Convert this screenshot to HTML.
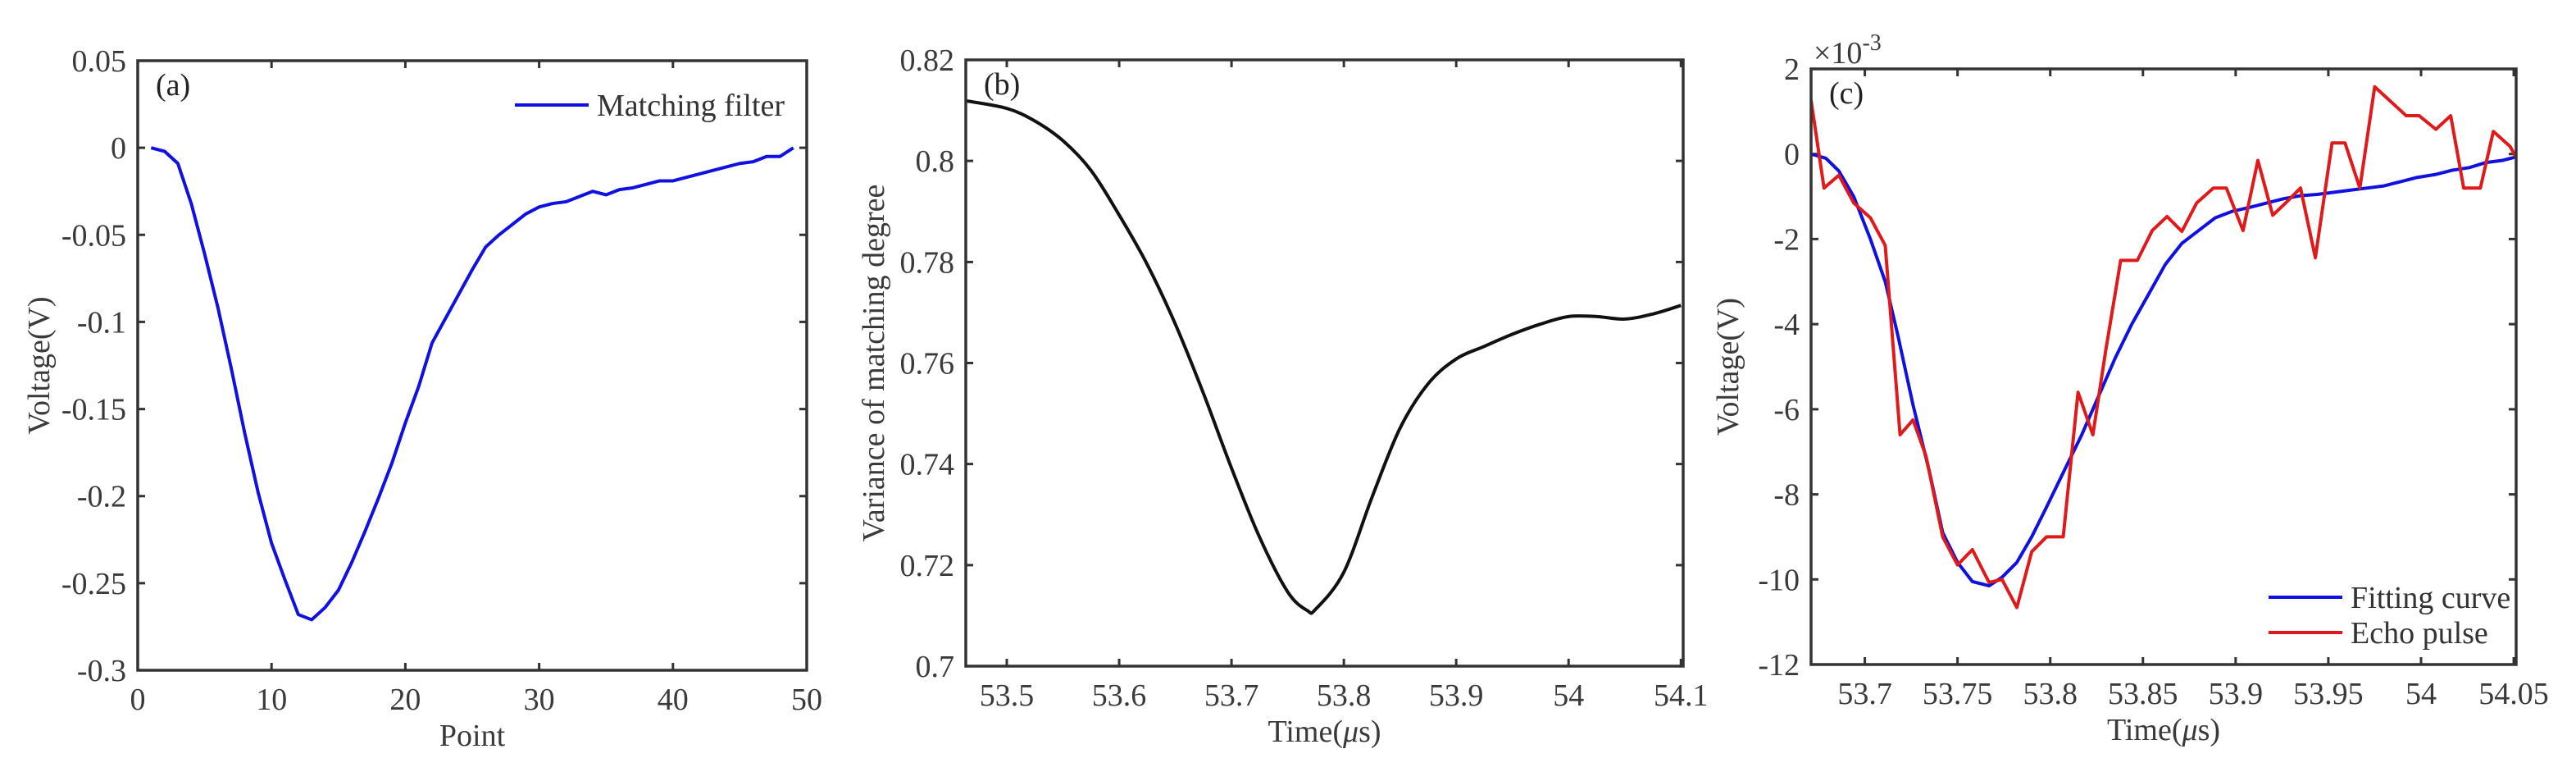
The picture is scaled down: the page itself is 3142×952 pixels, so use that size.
<!DOCTYPE html>
<html><head><meta charset="utf-8"><style>
html,body{margin:0;padding:0;background:#fff;}
svg{display:block;font-family:"Liberation Serif",serif;}
</style></head><body>
<svg id="fig" width="3142" height="952" viewBox="0 0 3142 952" xmlns="http://www.w3.org/2000/svg"></svg>
<script>
// Panel (a) data
const aPoints=[1,2,3,4,5,6,7,8,9,10,11,12,13,14,15,16,17,18,19,20,21,22,23,24,25,26,27,28,29,30,31,32,33,34,35,36,37,38,39,40,41,42,43,44,45,46,47,48,49];
const aVoltage=[0,-0.002,-0.009,-0.032,-0.061,-0.092,-0.127,-0.164,-0.198,-0.227,-0.248,-0.268,-0.271,-0.264,-0.254,-0.238,-0.22,-0.201,-0.181,-0.158,-0.137,-0.112,-0.098,-0.084,-0.07,-0.057,-0.05,-0.044,-0.038,-0.034,-0.032,-0.031,-0.028,-0.025,-0.027,-0.024,-0.023,-0.021,-0.019,-0.019,-0.017,-0.015,-0.013,-0.011,-0.009,-0.008,-0.005,-0.005,0];
const aXTicks=[0,10,20,30,40,50];
const aYTicks=[0.05,0,-0.05,-0.1,-0.15,-0.2,-0.25,-0.3];
const aYLabels=["0.05","0","-0.05","-0.1","-0.15","-0.2","-0.25","-0.3"];
// Panel (b) data
const bTime=[53.4635,53.5,53.525,53.55,53.575,53.6,53.625,53.65,53.675,53.7,53.725,53.75,53.7675,53.775,53.8,53.825,53.85,53.875,53.9,53.925,53.95,53.975,54.0,54.025,54.05,54.075,54.1];
const bVariance=[0.8119,0.8104,0.8079,0.804,0.7981,0.7893,0.7795,0.7677,0.754,0.7392,0.7255,0.7147,0.711,0.7113,0.7186,0.7334,0.7471,0.7559,0.7608,0.7633,0.7657,0.7677,0.7692,0.7692,0.7687,0.7697,0.7714];
const bXTicks=[53.5,53.6,53.7,53.8,53.9,54,54.1];
const bYTicks=[0.82,0.8,0.78,0.76,0.74,0.72,0.7];
const bYLabels=["0.82","0.8","0.78","0.76","0.74","0.72","0.7"];
// Panel (c) data (units of 1e-3 V)
const cEchoTime=[53.671,53.678,53.686,53.694,53.703,53.711,53.719,53.726,53.733,53.742,53.750,53.758,53.767,53.774,53.782,53.790,53.798,53.807,53.815,53.823,53.830,53.838,53.847,53.855,53.863,53.871,53.879,53.888,53.895,53.904,53.912,53.920,53.927,53.935,53.943,53.952,53.959,53.967,53.975,53.983,53.992,53.999,54.008,54.016,54.023,54.032,54.039,54.048,54.056];
const cEcho=[1.26,-0.8,-0.5,-1.15,-1.5,-2.15,-6.6,-6.25,-7.1,-9.0,-9.66,-9.3,-10.07,-10.0,-10.66,-9.35,-9.0,-9.0,-5.6,-6.6,-4.6,-2.5,-2.5,-1.8,-1.47,-1.82,-1.15,-0.8,-0.8,-1.8,-0.15,-1.44,-1.15,-0.8,-2.44,0.26,0.26,-0.8,1.58,1.26,0.9,0.9,0.58,0.9,-0.8,-0.8,0.53,0.18,-0.45];
const cFitTime=[53.671,53.679,53.686,53.694,53.703,53.711,53.718,53.726,53.735,53.742,53.750,53.758,53.767,53.774,53.782,53.790,53.798,53.808,53.817,53.826,53.835,53.844,53.853,53.862,53.871,53.880,53.889,53.898,53.908,53.917,53.926,53.935,53.944,53.953,53.962,53.971,53.980,53.989,53.998,54.008,54.017,54.026,54.035,54.044,54.053];
const cFit=[0,-0.1,-0.4,-1.0,-2.0,-3.0,-4.3,-5.9,-7.5,-8.9,-9.6,-10.05,-10.15,-9.95,-9.6,-9.0,-8.3,-7.4,-6.6,-5.7,-4.8,-4.0,-3.3,-2.6,-2.1,-1.8,-1.5,-1.35,-1.25,-1.15,-1.05,-0.98,-0.95,-0.9,-0.85,-0.8,-0.75,-0.65,-0.55,-0.48,-0.38,-0.32,-0.2,-0.15,-0.05];
const cXTicks=[53.7,53.75,53.8,53.85,53.9,53.95,54,54.05];
const cXLabels=["53.7","53.75","53.8","53.85","53.9","53.95","54","54.05"];
const cYTicks=[2,0,-2,-4,-6,-8,-10,-12];

const NS="http://www.w3.org/2000/svg";
const svg=document.getElementById('fig');
function mk(tag,attrs,parent){const e=document.createElementNS(NS,tag);for(const k in attrs)e.setAttribute(k,attrs[k]);(parent||svg).appendChild(e);return e;}
const FS=38, TXT="#3a3a3a", AX="#333";

function axes(p){
  const g=mk('g',{});
  
  
  const sx=v=>p.x0+(v-p.xmin)/(p.xmax-p.xmin)*(p.x1-p.x0);
  const sy=v=>p.y1-(v-p.ymin)/(p.ymax-p.ymin)*(p.y1-p.y0);
  const cid='clip-'+p.name;
  const cp=mk('clipPath',{id:cid},g);
  mk('rect',{x:p.x0,y:p.y0,width:p.x1-p.x0,height:p.y1-p.y0},cp);
  p.xTicks.forEach((t,i)=>{
    const x=sx(t);
    const tk=mk('path',{d:`M${x},${p.y1}v-9M${x},${p.y0}v9`,stroke:AX,'stroke-width':3},g);
    
    
    const lb=mk('text',{x:x,y:p.y1+48,'text-anchor':'middle','font-size':FS,fill:TXT},g);
    lb.textContent=p.xLabels?p.xLabels[i]:String(t);
    
    
  });
  p.yTicks.forEach((t,i)=>{
    const y=sy(t);
    const tk=mk('path',{d:`M${p.x0},${y}h9M${p.x1},${y}h-9`,stroke:AX,'stroke-width':3},g);
    
    
    const lb=mk('text',{x:p.x0-14,y:y+13,'text-anchor':'end','font-size':FS,fill:TXT},g);
    lb.textContent=p.yLabels?p.yLabels[i]:String(t);
    
    
  });
  p.series.forEach(s=>{
    let d='';
    const pts=s.x.map((v,i)=>[sx(v),sy(s.y[i])]);
    if(s.smooth){
      d='M'+pts[0][0]+','+pts[0][1];
      for(let i=0;i<pts.length-1;i++){
        const p0=pts[Math.max(0,i-1)],p1=pts[i],p2=pts[i+1],p3=pts[Math.min(pts.length-1,i+2)];
        const c1=[p1[0]+(p2[0]-p0[0])/6,p1[1]+(p2[1]-p0[1])/6];
        const c2=[p2[0]-(p3[0]-p1[0])/6,p2[1]-(p3[1]-p1[1])/6];
        d+=`C${c1[0]},${c1[1]} ${c2[0]},${c2[1]} ${p2[0]},${p2[1]}`;
      }
    } else d='M'+pts.map(q=>q.join(',')).join('L');
    const path=mk('path',{d:d,fill:'none',stroke:s.color,'stroke-width':4,'stroke-linejoin':'round','clip-path':`url(#${cid})`},g);
    
    
  });
  const fr=mk('rect',{x:p.x0,y:p.y0,width:p.x1-p.x0,height:p.y1-p.y0,fill:'none',stroke:AX,'stroke-width':3.5},g);
  
  
  const xt=mk('text',{x:(p.x0+p.x1)/2,y:p.y1+92,'text-anchor':'middle','font-size':FS,fill:TXT},g);
  xt.innerHTML=p.xTitle;
  
  
  const yx=p.yTitleX, yy=(p.y0+p.y1)/2;
  const yt=mk('text',{x:yx,y:yy,'text-anchor':'middle','font-size':FS,fill:TXT,transform:`rotate(-90 ${yx} ${yy})`},g);
  yt.textContent=p.yTitle;
  
  
  const pl=mk('text',{x:p.x0+22,y:p.y0+42,'font-size':FS,fill:'#222'},g);
  pl.textContent=p.label;
  
  
  return g;
}

axes({name:'panel-a',x0:168,x1:984,y0:74,y1:817,xmin:0,xmax:50,ymin:-0.3,ymax:0.05,
  xTicks:aXTicks,yTicks:aYTicks,yLabels:aYLabels,xTitle:'Point',yTitle:'Voltage(V)',yTitleX:60,label:'(a)',
  series:[{name:'matching-filter-line',x:aPoints,y:aVoltage,color:'#1010e0'}]});
axes({name:'panel-b',x0:1178,x1:2053,y0:73,y1:812,xmin:53.4635,xmax:54.102,ymin:0.7,ymax:0.82,
  xTicks:bXTicks,yTicks:bYTicks,yLabels:bYLabels,xTitle:'Time(<tspan font-style="italic">μ</tspan>s)',yTitle:'Variance of matching degree',yTitleX:1078,label:'(b)',
  series:[{name:'variance-line',x:bTime,y:bVariance,color:'#111',smooth:true}]});
axes({name:'panel-c',x0:2209,x1:3069,y0:84,y1:810,xmin:53.671,xmax:54.0513,ymin:-12,ymax:2,
  xTicks:cXTicks,xLabels:cXLabels,yTicks:cYTicks,xTitle:'Time(<tspan font-style="italic">μ</tspan>s)',yTitle:'Voltage(V)',yTitleX:2120,label:'(c)',
  series:[{name:'fitting-curve-line',x:cFitTime,y:cFit,color:'#1010e0'},{name:'echo-pulse-line',x:cEchoTime,y:cEcho,color:'#e01a1a'}]});

// legends and exponent
function legendEntry(x,y,color,text,name){
  const g=mk('g',{});
  
  
  mk('line',{x1:x,y1:y,x2:x+90,y2:y,stroke:color,'stroke-width':4},g);
  const t=mk('text',{x:x+100,y:y+13,'font-size':FS,fill:'#333'},g);
  t.textContent=text;
}
legendEntry(628,128,'#1010e0','Matching filter','legend-matching-filter');
legendEntry(2767,728,'#1010e0','Fitting curve','legend-fitting-curve');
legendEntry(2767,771,'#e01a1a','Echo pulse','legend-echo-pulse');
const ex=mk('text',{x:2212,y:77,'font-size':FS,fill:TXT});
ex.innerHTML='×10<tspan dy="-16" font-size="28">-3</tspan>';


</script>
</body></html>
